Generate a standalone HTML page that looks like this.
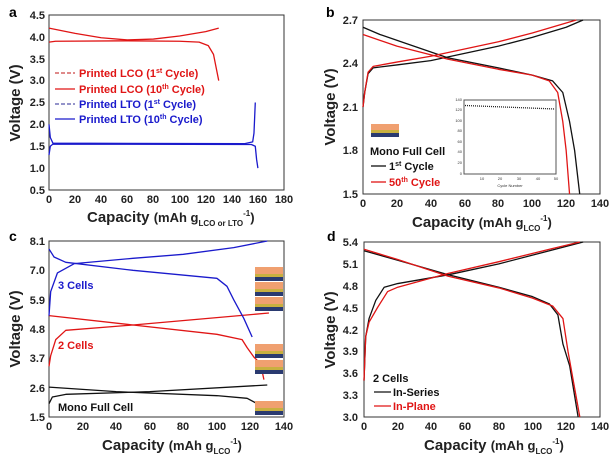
<!DOCTYPE html>
<html><head><meta charset="utf-8"><style>
body{margin:0;background:#fff}
svg{display:block;font-family:"Liberation Sans",Arial,sans-serif;font-weight:bold}
.t{font-size:11px;fill:#222}
.yt{text-anchor:end}
.xt{text-anchor:middle}
.at{font-size:15px;fill:#222}
.d{fill:none;stroke-width:1.3;vector-effect:non-scaling-stroke;stroke-linejoin:round}
</style></head><body>
<svg width="611" height="459" viewBox="0 0 611 459">
<!-- Panel a -->
<text x="9" y="17" font-size="14">a</text>
<rect x="49" y="15" width="235" height="175" fill="none" stroke="#333" stroke-width="1"/>
<g class="t yt">
<text x="45" y="194">0.5</text><text x="45" y="172">1.0</text><text x="45" y="150">1.5</text><text x="45" y="128">2.0</text><text x="45" y="106">2.5</text><text x="45" y="84">3.0</text><text x="45" y="63">3.5</text><text x="45" y="41">4.0</text><text x="45" y="19">4.5</text>
</g>
<g class="t xt">
<text x="49" y="203">0</text><text x="75" y="203">20</text><text x="101" y="203">40</text><text x="127" y="203">60</text><text x="153" y="203">80</text><text x="180" y="203">100</text><text x="206" y="203">120</text><text x="232" y="203">140</text><text x="258" y="203">160</text><text x="284" y="203">180</text>
</g>
<text class="at" transform="translate(20,103) rotate(-90)" text-anchor="middle">Voltage (V)</text>
<text class="at" x="87" y="222">Capacity <tspan font-size="13">(mAh g</tspan><tspan font-size="8" dy="4">LCO or LTO</tspan><tspan font-size="8" dy="-10">-1</tspan><tspan font-size="13" dy="6">)</tspan></text>
<g transform="translate(49,190) scale(1.3056,-43.75) translate(0,-0.5)">
<polyline class="d" stroke="#e01515" points="0,3.88 5,3.9 60,3.91 100,3.9 115,3.88 122,3.8 126,3.6 128,3.3 130,3.0"/>
<polyline class="d" stroke="#e01515" points="0,4.2 20,4.08 40,3.98 60,3.93 80,3.95 100,4.02 120,4.12 130,4.2"/>
<polyline class="d" stroke="#1a1acc" points="0,2.0 1,1.7 3,1.57 150,1.56 156,1.6 157,1.8 158,2.5"/>
<polyline class="d" stroke="#1a1acc" points="0,1.3 1,1.5 3,1.55 155,1.54 158,1.5 159,1.2 160,1.0"/>
</g>
<g font-size="11">
<line x1="55" y1="73" x2="75" y2="73" stroke="#c44" stroke-dasharray="4,2" stroke-width="1.3"/><text x="79" y="77" fill="#e01515">Printed LCO (1<tspan font-size="7" dy="-4">st</tspan><tspan dy="4"> Cycle)</tspan></text>
<line x1="55" y1="89" x2="75" y2="89" stroke="#e01515" stroke-width="1.3"/><text x="79" y="93" fill="#e01515">Printed LCO (10<tspan font-size="7" dy="-4">th</tspan><tspan dy="4"> Cycle)</tspan></text>
<line x1="55" y1="104" x2="75" y2="104" stroke="#55a" stroke-dasharray="4,2" stroke-width="1.3"/><text x="79" y="108" fill="#1a1acc">Printed LTO (1<tspan font-size="7" dy="-4">st</tspan><tspan dy="4"> Cycle)</tspan></text>
<line x1="55" y1="119" x2="75" y2="119" stroke="#1a1acc" stroke-width="1.3"/><text x="79" y="123" fill="#1a1acc">Printed LTO (10<tspan font-size="7" dy="-4">th</tspan><tspan dy="4"> Cycle)</tspan></text>
</g>

<!-- Panel b -->
<text x="326" y="17" font-size="14">b</text>
<rect x="363" y="20" width="237" height="174" fill="none" stroke="#333"/>
<g class="t yt">
<text x="358" y="198">1.5</text><text x="358" y="154">1.8</text><text x="358" y="111">2.1</text><text x="358" y="67">2.4</text><text x="358" y="24">2.7</text>
</g>
<g class="t xt">
<text x="363" y="207">0</text><text x="397" y="207">20</text><text x="431" y="207">40</text><text x="465" y="207">60</text><text x="498" y="207">80</text><text x="532" y="207">100</text><text x="566" y="207">120</text><text x="600" y="207">140</text>
</g>
<text class="at" transform="translate(335,107) rotate(-90)" text-anchor="middle">Voltage (V)</text>
<text class="at" x="412" y="227">Capacity <tspan font-size="13">(mAh g</tspan><tspan font-size="8" dy="4">LCO</tspan><tspan font-size="8" dy="-10">-1</tspan><tspan font-size="13" dy="6">)</tspan></text>
<g transform="translate(363,194) scale(1.693,-145) translate(0,-1.5)">
<polyline class="d" stroke="#111" points="0,2.65 10,2.6 30,2.52 50,2.44 80,2.37 100,2.32 112,2.28 118,2.2 122,2.0 125,1.8 128,1.5"/>
<polyline class="d" stroke="#111" points="0,2.1 1,2.2 3,2.33 6,2.37 20,2.39 40,2.42 60,2.47 80,2.52 100,2.58 120,2.65 130,2.7"/>
<polyline class="d" stroke="#e01515" points="0,2.6 20,2.52 50,2.43 80,2.36 100,2.32 110,2.28 115,2.2 118,2.0 120,1.8 122,1.5"/>
<polyline class="d" stroke="#e01515" points="0,2.1 1,2.2 3,2.34 6,2.38 20,2.41 40,2.45 60,2.5 80,2.55 100,2.61 126,2.7"/>
</g>
<rect x="371" y="124" width="28" height="6" fill="#f0a070"/><rect x="371" y="130" width="28" height="3" fill="#c8b040"/><rect x="371" y="133" width="28" height="4" fill="#2a3a70"/>
<g font-size="11" fill="#111">
<text x="370" y="155">Mono Full Cell</text>
<line x1="371" y1="166" x2="386" y2="166" stroke="#111" stroke-width="1.3"/><text x="389" y="170">1<tspan font-size="7" dy="-4">st</tspan><tspan dy="4"> Cycle</tspan></text>
<line x1="371" y1="182" x2="386" y2="182" stroke="#e01515" stroke-width="1.3"/><text x="389" y="186" fill="#e01515">50<tspan font-size="7" dy="-4">th</tspan><tspan dy="4"> Cycle</tspan></text>
</g>
<rect x="464" y="100" width="92" height="74" fill="#fff" stroke="#555"/>
<g font-size="4" font-weight="normal" fill="#333" text-anchor="end">
<text x="462" y="175">0</text><text x="462" y="164">20</text><text x="462" y="153">40</text><text x="462" y="143">60</text><text x="462" y="132">80</text><text x="462" y="122">100</text><text x="462" y="111">120</text><text x="462" y="101">140</text>
</g>
<g font-size="4" font-weight="normal" fill="#333" text-anchor="middle">
<text x="482" y="180">10</text><text x="500" y="180">20</text><text x="519" y="180">30</text><text x="538" y="180">40</text><text x="556" y="180">50</text>
<text x="510" y="187">Cycle Number</text>
</g>
<line x1="465" y1="105.5" x2="555" y2="109" stroke="#222" stroke-width="1.3" stroke-dasharray="1,1"/>

<!-- Panel c -->
<text x="9" y="241" font-size="14">c</text>
<rect x="49" y="241" width="235" height="176" fill="none" stroke="#333"/>
<g class="t yt">
<text x="45" y="421">1.5</text><text x="45" y="392">2.6</text><text x="45" y="362">3.7</text><text x="45" y="333">4.8</text><text x="45" y="304">5.9</text><text x="45" y="274">7.0</text><text x="45" y="245">8.1</text>
</g>
<g class="t xt">
<text x="49" y="430">0</text><text x="83" y="430">20</text><text x="116" y="430">40</text><text x="150" y="430">60</text><text x="183" y="430">80</text><text x="217" y="430">100</text><text x="250" y="430">120</text><text x="284" y="430">140</text>
</g>
<text class="at" transform="translate(20,329) rotate(-90)" text-anchor="middle">Voltage (V)</text>
<text class="at" x="102" y="450">Capacity <tspan font-size="13">(mAh g</tspan><tspan font-size="8" dy="4">LCO</tspan><tspan font-size="8" dy="-10">-1</tspan><tspan font-size="13" dy="6">)</tspan></text>
<g transform="translate(49,417) scale(1.679,-26.67) translate(0,-1.5)">
<polyline class="d" stroke="#111" points="0,2.62 40,2.45 100,2.3 118,2.2 124,2.0"/>
<polyline class="d" stroke="#111" points="0,2.0 2,2.25 10,2.35 60,2.45 130,2.7"/>
<polyline class="d" stroke="#e01515" points="0,5.3 50,4.95 100,4.6 115,4.4 118,4.1 122,3.75 126,3.5 128,2.9"/>
<polyline class="d" stroke="#e01515" points="0,3.4 1,3.8 4,4.4 10,4.75 50,4.95 131,5.4"/>
<polyline class="d" stroke="#1a1acc" points="0,7.8 3,7.5 10,7.3 50,7.0 100,6.7 106,6.4 110,5.9 116,5.2 121,4.5"/>
<polyline class="d" stroke="#1a1acc" points="0,5.3 1,6.2 5,6.9 15,7.25 50,7.45 80,7.6 110,7.85 130,8.1"/>
</g>
<text x="58" y="289" font-size="11" fill="#1a1acc">3 Cells</text>
<text x="58" y="349" font-size="11" fill="#e01515">2 Cells</text>
<text x="58" y="411" font-size="11" fill="#111">Mono Full Cell</text>
<g>
<rect x="255" y="267" width="28" height="7" fill="#f0a070"/><rect x="255" y="274" width="28" height="3" fill="#c8b040"/><rect x="255" y="277" width="28" height="4" fill="#2a3a70"/>
<rect x="255" y="282" width="28" height="7" fill="#f0a070"/><rect x="255" y="289" width="28" height="3" fill="#c8b040"/><rect x="255" y="292" width="28" height="4" fill="#2a3a70"/>
<rect x="255" y="297" width="28" height="7" fill="#f0a070"/><rect x="255" y="304" width="28" height="3" fill="#c8b040"/><rect x="255" y="307" width="28" height="4" fill="#2a3a70"/>
<rect x="255" y="344" width="28" height="7" fill="#f0a070"/><rect x="255" y="351" width="28" height="3" fill="#c8b040"/><rect x="255" y="354" width="28" height="4" fill="#2a3a70"/>
<rect x="255" y="360" width="28" height="7" fill="#f0a070"/><rect x="255" y="367" width="28" height="3" fill="#c8b040"/><rect x="255" y="370" width="28" height="4" fill="#2a3a70"/>
<rect x="255" y="401" width="28" height="7" fill="#f0a070"/><rect x="255" y="408" width="28" height="3" fill="#c8b040"/><rect x="255" y="411" width="28" height="4" fill="#2a3a70"/>
</g>

<!-- Panel d -->
<text x="327" y="241" font-size="14">d</text>
<rect x="364" y="242" width="236" height="175" fill="none" stroke="#333"/>
<g class="t yt">
<text x="358" y="421">3.0</text><text x="358" y="399">3.3</text><text x="358" y="377">3.6</text><text x="358" y="355">3.9</text><text x="358" y="334">4.2</text><text x="358" y="312">4.5</text><text x="358" y="290">4.8</text><text x="358" y="268">5.1</text><text x="358" y="246">5.4</text>
</g>
<g class="t xt">
<text x="364" y="430">0</text><text x="398" y="430">20</text><text x="431" y="430">40</text><text x="465" y="430">60</text><text x="499" y="430">80</text><text x="533" y="430">100</text><text x="566" y="430">120</text><text x="600" y="430">140</text>
</g>
<text class="at" transform="translate(335,330) rotate(-90)" text-anchor="middle">Voltage (V)</text>
<text class="at" x="424" y="450">Capacity <tspan font-size="13">(mAh g</tspan><tspan font-size="8" dy="4">LCO</tspan><tspan font-size="8" dy="-10">-1</tspan><tspan font-size="13" dy="6">)</tspan></text>
<g transform="translate(364,417) scale(1.686,-72.92) translate(0,-3)">
<polyline class="d" stroke="#111" points="0,5.28 20,5.15 50,4.95 80,4.78 100,4.65 110,4.55 115,4.4 118,4.0 122,3.7 127,3.0"/>
<polyline class="d" stroke="#111" points="0,3.5 1,4.1 3,4.35 7,4.6 12,4.78 20,4.83 50,4.95 80,5.1 110,5.28 130,5.4"/>
<polyline class="d" stroke="#e01515" points="0,5.3 20,5.16 50,4.93 80,4.77 100,4.63 112,4.52 118,4.35 121,3.9 128,3.0"/>
<polyline class="d" stroke="#e01515" points="0,3.5 1,4.1 3,4.3 8,4.5 14,4.72 20,4.78 50,4.97 80,5.13 110,5.3 128,5.4"/>
</g>
<g font-size="11">
<text x="373" y="382" fill="#111">2 Cells</text>
<line x1="374" y1="392" x2="391" y2="392" stroke="#111" stroke-width="1.3"/><text x="393" y="396" fill="#111">In-Series</text>
<line x1="374" y1="406" x2="391" y2="406" stroke="#e01515" stroke-width="1.3"/><text x="393" y="410" fill="#e01515">In-Plane</text>
</g>
</svg>
</body></html>
